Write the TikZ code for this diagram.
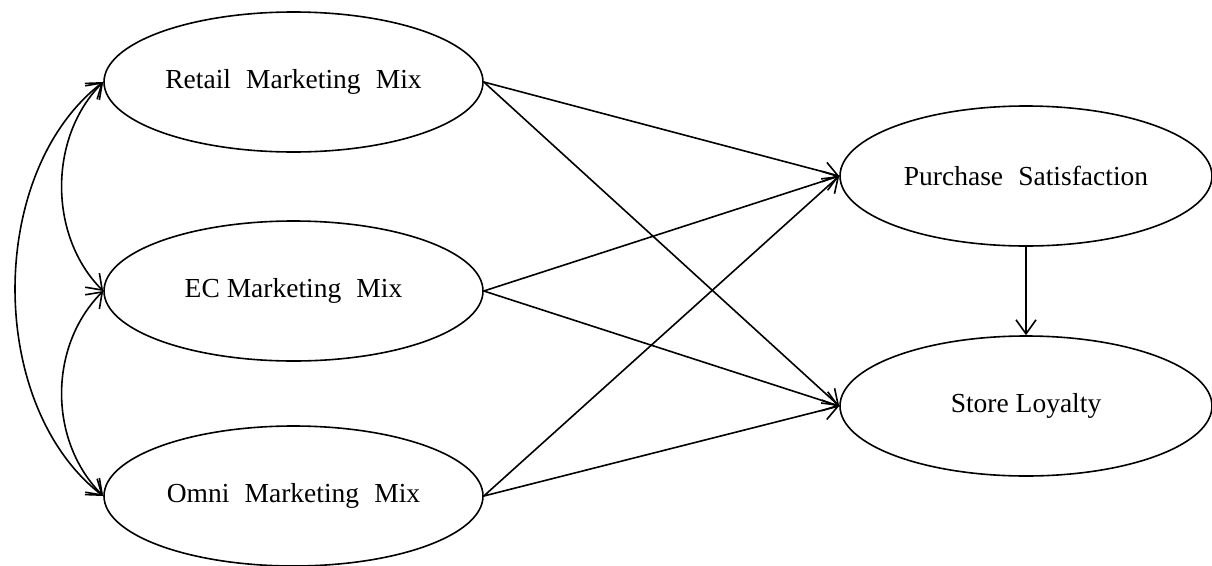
\documentclass[tikz,border=0pt]{standalone}
\usepackage{fontspec}
\setmainfont{Liberation Serif}
\usetikzlibrary{shapes.geometric,arrows.meta}
\newcommand{\gap}{\hspace{0.55em}}
\begin{document}
\begin{tikzpicture}[x=1pt,y=-1pt,
  latent/.style={ellipse,draw,line width=1.6pt,minimum width=379pt,
    minimum height=140pt,inner sep=0pt,font=\fontsize{27.5}{32}\selectfont},
  barb/.tip={Straight Barb[length=14pt,width=20pt,line width=1.6pt]},
  regpath/.style={line width=1.6pt,-barb},
  covpath/.style={line width=1.6pt,barb-barb}]
\fill[white] (0,0) rectangle (1212,565);
\useasboundingbox (0,0) rectangle (1212,565);

% exogenous constructs
\node[latent] (ret)  at (293.5,82)  {Retail\gap Marketing\gap Mix};
\node[latent] (ec)   at (293.5,291) {EC Marketing\gap Mix};
\node[latent] (omni) at (293.5,496) {Omni\gap Marketing\gap Mix};

% endogenous constructs
\node[latent,minimum width=372pt] (ps) at (1026,176) {Purchase\gap Satisfaction};
\node[latent,minimum width=372pt] (sl) at (1026,406) {Store Loyalty};

% structural paths
\draw[regpath] (ret.east)  -- (ps.west);
\draw[regpath] (ret.east)  -- (sl.west);
\draw[regpath] (ec.east)   -- (ps.west);
\draw[regpath] (ec.east)   -- (sl.west);
\draw[regpath] (omni.east) -- (ps.west);
\draw[regpath] (omni.east) -- (sl.west);
\draw[regpath] (ps.south)  -- (sl.north);

% covariances
\draw[covpath] (ret.west) .. controls +(-55,55) and +(-55,-55) .. (ec.west);
\draw[covpath] (ec.west) .. controls +(-55,55) and +(-55,-55) .. (omni.west);
\draw[covpath] (ret.west) .. controls +(-117,90) and +(-117,-90) .. (omni.west);
\end{tikzpicture}
\end{document}
